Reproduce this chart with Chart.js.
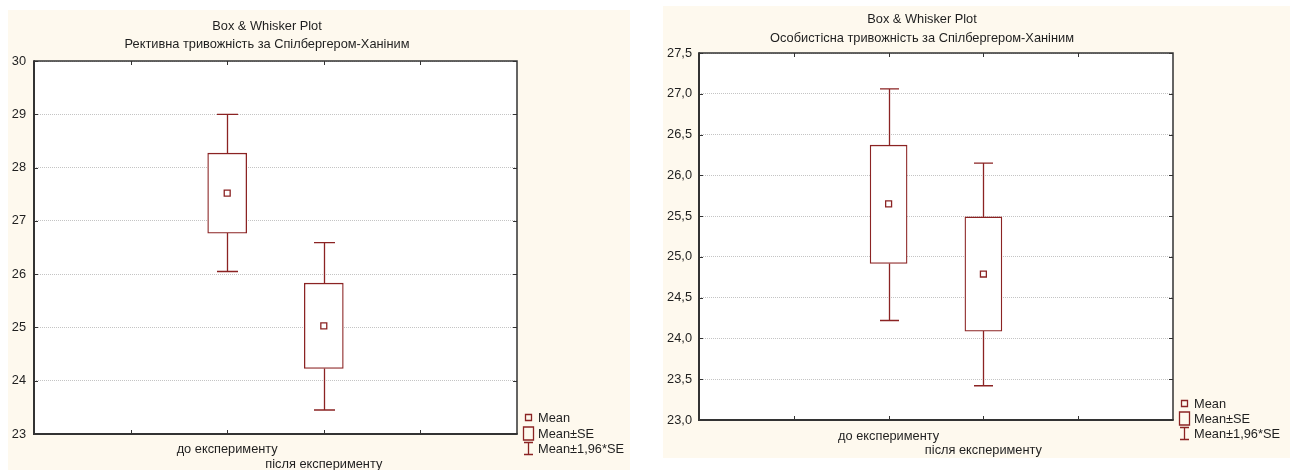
<!DOCTYPE html>
<html lang="uk">
<head>
<meta charset="utf-8">
<title>Box &amp; Whisker Plot</title>
<script src="https://cdn.jsdelivr.net/npm/chart.js@4.4.1/dist/chart.umd.min.js"></script>
<style>
  html, body { margin: 0; padding: 0; background: #ffffff; }
  body { position: relative; width: 1290px; height: 470px; overflow: hidden; }
  .panel { position: absolute; background: #fef9ee; }
  #panelA { left: 8px; top: 10px; width: 622px; height: 460px; }
  #panelB { left: 663px; top: 6px; width: 627px; height: 452px; }
  canvas { display: block; }
</style>
</head>
<body>
<div class="panel" id="panelA"><canvas id="chartA" width="622" height="460"></canvas></div>
<div class="panel" id="panelB"><canvas id="chartB" width="627" height="452"></canvas></div>
<script>
// Groups compared on both plots
const groups = ['до експерименту', 'після експерименту'];

// Реактивна тривожність: mean, mean ± SE, mean ± 1,96*SE
const reactiveMean   = [27.52, 25.03];
const reactiveSeLow  = [26.77, 24.23];
const reactiveSeHigh = [28.27, 25.83];
const reactiveCiLow  = [26.05, 23.45];
const reactiveCiHigh = [29.00, 26.59];
const reactiveTicks  = [23, 24, 25, 26, 27, 28, 29, 30];

// Особистісна тривожність: mean, mean ± SE, mean ± 1,96*SE
const personalMean   = [25.65, 24.79];
const personalSeLow  = [24.92, 24.09];
const personalSeHigh = [26.37, 25.49];
const personalCiLow  = [24.22, 23.42];
const personalCiHigh = [27.06, 26.15];
const personalTicks  = [23.0, 23.5, 24.0, 24.5, 25.0, 25.5, 26.0, 26.5, 27.0, 27.5];

const plotTitle = 'Box & Whisker Plot';
const legendLabels = ['Mean', 'Mean±SE', 'Mean±1,96*SE'];

const FONT = "'Liberation Sans', Arial, sans-serif";
const FONT_SIZE = 12.8;
const INK = '#1f1f1f';
const BOX_RED = '#8b2323';

// the groups sit on the 3rd and 4th of six evenly spaced axis slots
const LEAD = 2;
const axisSlots = ['', '', ...groups, '', ''];
const pad = arr => [null, null, ...arr, null, null];

// white plotting area inside the cream panel
const plotBackground = {
  id: 'plotBackground',
  beforeDraw(chart) {
    const { ctx, chartArea: a } = chart;
    ctx.save();
    ctx.fillStyle = '#ffffff';
    ctx.fillRect(a.left, a.top, a.width, a.height);
    ctx.restore();
  }
};

// two-line heading above the plot
const headings = {
  id: 'headings',
  afterDraw(chart, args, opts) {
    const { ctx } = chart;
    ctx.save();
    ctx.fillStyle = INK;
    ctx.font = `${FONT_SIZE}px ${FONT}`;
    ctx.textAlign = 'center';
    ctx.textBaseline = 'middle';
    opts.lines.forEach((text, i) => ctx.fillText(text, opts.x, opts.y[i]));
    ctx.restore();
  }
};

// whiskers (mean ± 1,96*SE) attached to each box
const whiskers = {
  id: 'whiskers',
  afterDatasetsDraw(chart, args, opts) {
    const { ctx } = chart;
    const y = chart.scales.y;
    const bars = chart.getDatasetMeta(0).data;
    ctx.save();
    ctx.strokeStyle = BOX_RED;
    ctx.lineWidth = 1.3;
    opts.low.forEach((lo, i) => {
      const x = Math.round(bars[LEAD + i].x) + 0.5;
      const yLo = y.getPixelForValue(lo);
      const yHi = y.getPixelForValue(opts.high[i]);
      const yBoxLo = y.getPixelForValue(opts.boxLow[i]);
      const yBoxHi = y.getPixelForValue(opts.boxHigh[i]);
      ctx.beginPath();
      ctx.moveTo(x, yBoxLo); ctx.lineTo(x, yLo);
      ctx.moveTo(x, yBoxHi); ctx.lineTo(x, yHi);
      ctx.moveTo(x - opts.cap, yLo); ctx.lineTo(x + opts.cap, yLo);
      ctx.moveTo(x - opts.cap, yHi); ctx.lineTo(x + opts.cap, yHi);
      ctx.stroke();
    });
    ctx.restore();
  }
};

// plot frame with short inward tick marks
const frame = {
  id: 'frame',
  afterDatasetsDraw(chart) {
    const { ctx, chartArea: a, scales } = chart;
    ctx.save();
    ctx.strokeStyle = '#333333';
    ctx.lineWidth = 1;
    ctx.beginPath();
    for (let i = 1; i < scales.x.ticks.length - 1; i++) {
      const x = Math.round(scales.x.getPixelForTick(i)) + 0.5;
      ctx.moveTo(x, a.top); ctx.lineTo(x, a.top + 4);
      ctx.moveTo(x, a.bottom); ctx.lineTo(x, a.bottom - 4);
    }
    scales.y.ticks.forEach((t, i) => {
      const y = Math.round(scales.y.getPixelForTick(i)) + 0.5;
      ctx.moveTo(a.left, y); ctx.lineTo(a.left + 4, y);
      ctx.moveTo(a.right, y); ctx.lineTo(a.right - 4, y);
    });
    ctx.stroke();
    ctx.lineWidth = 1.5;
    ctx.beginPath();
    ctx.moveTo(a.left, a.top); ctx.lineTo(a.right, a.top); ctx.lineTo(a.right, a.bottom);
    ctx.stroke();
    ctx.lineWidth = 2;
    ctx.beginPath();
    ctx.moveTo(a.left, a.top - 0.75); ctx.lineTo(a.left, a.bottom); ctx.lineTo(a.right + 0.75, a.bottom);
    ctx.stroke();
    ctx.restore();
  }
};

// legend with the three statistic symbols, to the right of the plot bottom
const statLegend = {
  id: 'statLegend',
  afterDraw(chart, args, opts) {
    const { ctx, chartArea: a } = chart;
    const cx = a.right + 11.5;
    const tx = a.right + 21;
    ctx.save();
    ctx.strokeStyle = BOX_RED;
    ctx.lineWidth = 1.3;
    ctx.fillStyle = INK;
    ctx.font = `${FONT_SIZE}px ${FONT}`;
    ctx.textBaseline = 'middle';
    ctx.textAlign = 'left';
    opts.rows.forEach((dy, i) => {
      const y = Math.round(a.bottom + dy);
      ctx.beginPath();
      if (i === 0) {
        ctx.rect(cx - 3, y - 3.5, 6, 6);
      } else if (i === 1) {
        ctx.rect(cx - 5, y - 7, 10, 13);
      } else {
        ctx.moveTo(cx, y - 6.5); ctx.lineTo(cx, y + 5.5);
        ctx.moveTo(cx - 4.5, y - 6.5); ctx.lineTo(cx + 4.5, y - 6.5);
        ctx.moveTo(cx - 4.5, y + 5.5); ctx.lineTo(cx + 4.5, y + 5.5);
      }
      ctx.stroke();
      ctx.fillText(legendLabels[i], tx, y);
    });
    ctx.restore();
  }
};

function buildBoxPlot(canvasId, cfg) {
  const font = { family: FONT, size: FONT_SIZE, weight: 'normal', lineHeight: 1.17 };
  const boxes = pad(cfg.seLow.map((lo, i) => [lo, cfg.seHigh[i]]));
  return new Chart(document.getElementById(canvasId), {
    type: 'bar',
    data: {
      labels: axisSlots,
      datasets: [
        {
          type: 'bar',
          label: legendLabels[1],
          data: boxes,
          backgroundColor: '#ffffff',
          borderColor: BOX_RED,
          borderWidth: 1.3,
          borderSkipped: false,
          barThickness: cfg.boxWidth,
          order: 2
        },
        {
          type: 'line',
          label: legendLabels[0],
          data: pad(cfg.mean),
          showLine: false,
          pointStyle: 'rect',
          pointRadius: 4.2,
          pointBorderWidth: 1.3,
          pointBackgroundColor: '#ffffff',
          pointBorderColor: BOX_RED,
          order: 1
        }
      ]
    },
    options: {
      responsive: false,
      animation: false,
      devicePixelRatio: 1,
      layout: { padding: { left: 0, right: cfg.rightSpace, top: cfg.plotTop, bottom: 0 } },
      plugins: {
        legend: { display: false },
        tooltip: { enabled: false },
        headings: { lines: [plotTitle, cfg.subtitle], x: cfg.titleX, y: cfg.titleY },
        whiskers: { low: cfg.ciLow, high: cfg.ciHigh, boxLow: cfg.seLow, boxHigh: cfg.seHigh, cap: cfg.cap },
        statLegend: { rows: cfg.legendRows }
      },
      scales: {
        x: {
          offset: false,
          grid: { display: false, drawTicks: false, offset: false },
          border: { display: false },
          afterFit: s => { s.height = cfg.xAxisHeight; },
          ticks: {
            autoSkip: false,
            maxRotation: 0,
            minRotation: 0,
            padding: cfg.xPad,
            color: INK,
            font,
            callback: (v, i) => {
              const k = i - LEAD;
              if (k < 0 || k >= groups.length) return '';
              return k % 2 === 0 ? [groups[k], ''] : ['', groups[k]];
            }
          }
        },
        y: {
          min: cfg.ticks[0],
          max: cfg.ticks[cfg.ticks.length - 1],
          afterBuildTicks: s => { s.ticks = cfg.ticks.map(v => ({ value: v })); },
          afterFit: s => { s.width = cfg.yAxisWidth; },
          grid: { color: '#c4c4c4', lineWidth: 1, drawTicks: false },
          border: { display: false, dash: [1, 1] },
          ticks: { padding: cfg.yPad, color: INK, font, callback: v => cfg.fmt(v) }
        }
      }
    },
    plugins: [plotBackground, headings, whiskers, frame, statLegend]
  });
}

buildBoxPlot('chartA', {
  subtitle: 'Рективна тривожність за Спілбергером-Ханіним',
  mean: reactiveMean, seLow: reactiveSeLow, seHigh: reactiveSeHigh,
  ciLow: reactiveCiLow, ciHigh: reactiveCiHigh, ticks: reactiveTicks,
  fmt: v => String(v),
  boxWidth: 39, cap: 10.5,
  rightSpace: 113, yAxisWidth: 26, yPad: 8, xAxisHeight: 36, plotTop: 51, xPad: 8,
  titleX: 259, titleY: [16, 34], legendRows: [-16, -0.5, 14.5]
});

buildBoxPlot('chartB', {
  subtitle: 'Особистісна тривожність за Спілбергером-Ханіним',
  mean: personalMean, seLow: personalSeLow, seHigh: personalSeHigh,
  ciLow: personalCiLow, ciHigh: personalCiHigh, ticks: personalTicks,
  fmt: v => Number(v).toFixed(1).replace('.', ','),
  boxWidth: 37, cap: 9.5,
  rightSpace: 117, yAxisWidth: 36, yPad: 7, xAxisHeight: 38, plotTop: 47, xPad: 8.5,
  titleX: 259, titleY: [13, 32], legendRows: [-16.5, -1.5, 13.5]
});
</script>
</body>
</html>
